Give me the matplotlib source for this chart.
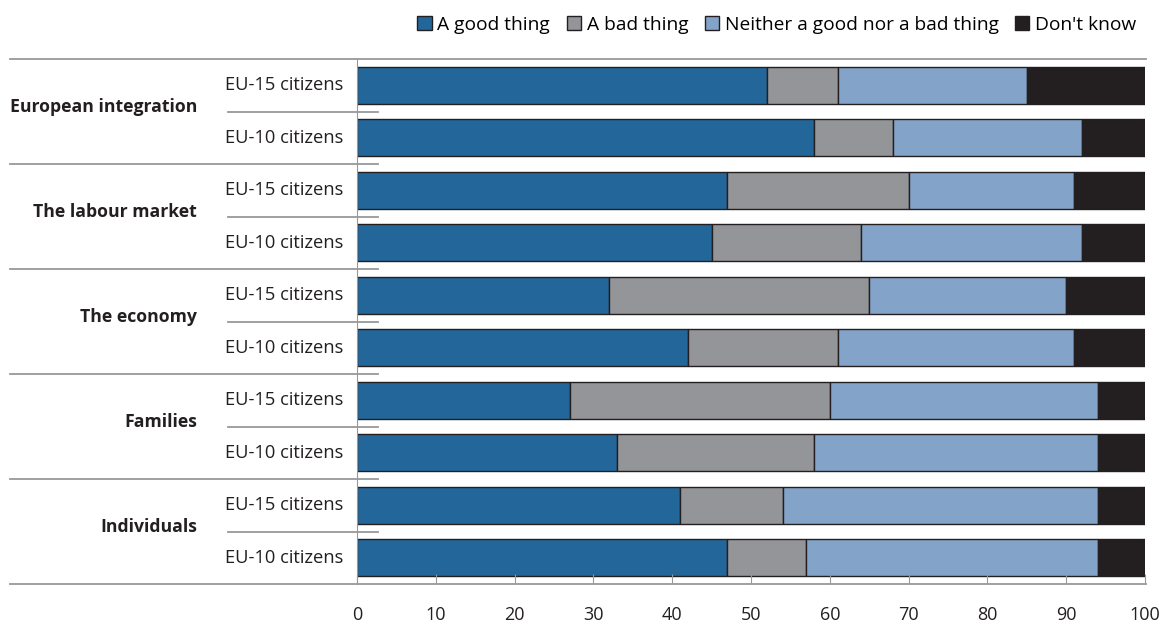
import matplotlib
matplotlib.use('Agg')
import matplotlib.pyplot as plt
import matplotlib.transforms as mtransforms
import numpy as np

plt.rcParams['font.family'] = ['Open Sans', 'DejaVu Sans']

# data
groups = ['European integration', 'The labour market', 'The economy', 'Families', 'Individuals']
subgroups = ['EU-15 citizens', 'EU-10 citizens']
series = ['A good thing', 'A bad thing', 'Neither a good nor a bad thing', "Don't know"]
good = [52, 58, 47, 45, 32, 42, 27, 33, 41, 47]
bad = [9, 10, 23, 19, 33, 19, 33, 25, 13, 10]
neither = [24, 24, 21, 28, 25, 30, 34, 36, 40, 37]
dont_know = [15, 8, 9, 8, 10, 9, 6, 6, 6, 6]
xticks = [0, 10, 20, 30, 40, 50, 60, 70, 80, 90, 100]

colors = ['#23679a', '#939598', '#84a3c8', '#231f20']

fig = plt.figure(figsize=(11.73, 6.23), dpi=100)
ax = fig.add_axes([357 / 1173, 1 - 584 / 623, (1145 - 357) / 1173, (584 - 59) / 623])

y = np.arange(len(good))
left = np.zeros(len(good))
for vals, col, name in zip([good, bad, neither, dont_know], colors, series):
    ax.barh(y, vals, left=left, height=0.7, color=col, edgecolor='#231f20',
            linewidth=1, label=name)
    left += np.array(vals)

ax.set_xlim(0, 100)
ax.set_ylim(len(good) - 0.5, -0.5)
ax.set_xticks(xticks)
ax.set_xticklabels([str(t) for t in xticks], fontsize=13, color='#231f20')
ax.tick_params(axis='x', direction='in', length=7, color='#999999', pad=16)
ax.set_yticks([])
for s in ['top', 'right', 'bottom']:
    ax.spines[s].set_visible(False)
ax.spines['left'].set_color('#999999')

# lines drawn outside the axes
tr = mtransforms.blended_transform_factory(fig.transFigure, ax.transData)
x0, x_short, x_full, x_mid = 10 / 1173, 378 / 1173, 1146 / 1173, 228 / 1173
for yy in [-0.5, len(good) - 0.5]:
    ax.plot([x0, x_full], [yy, yy], color='#999999', lw=1.3, transform=tr, clip_on=False)
for g in range(1, len(groups)):
    yy = 2 * g - 0.5
    ax.plot([x0, x_short], [yy, yy], color='#999999', lw=1.3, transform=tr, clip_on=False)
for g in range(len(groups)):
    yy = 2 * g + 0.5
    ax.plot([x_mid, x_short], [yy, yy], color='#999999', lw=1.3, transform=tr, clip_on=False)

# labels
for i in range(len(good)):
    ax.text(343 / 1173, i, subgroups[i % 2], transform=tr, ha='right', va='center',
            fontsize=13.2, color='#231f20')
for g, name in enumerate(groups):
    ax.text(197 / 1173, 2 * g + 0.42, name, transform=tr, ha='right', va='center',
            fontsize=12.7, fontweight='bold', color='#231f20')

fig.legend(loc='center right', bbox_to_anchor=(1144 / 1173, 1 - 25 / 623), ncol=4,
           frameon=False, fontsize=13.8, handlelength=0.75, handleheight=0.75,
           handletextpad=0.3, columnspacing=0.85, borderaxespad=0)

fig.savefig('out.png', dpi=100)
